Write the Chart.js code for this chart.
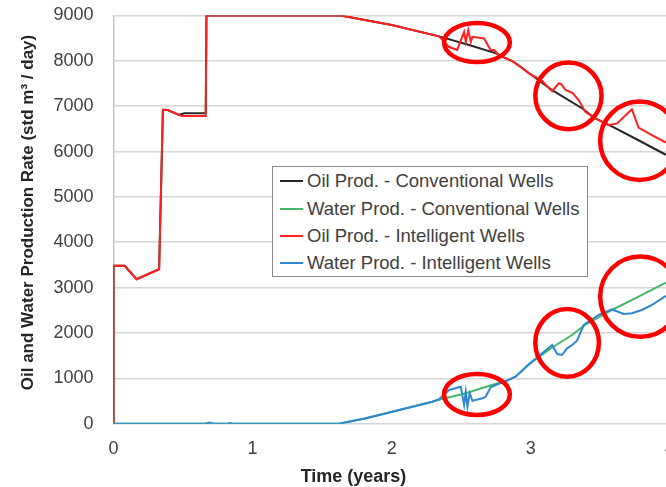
<!DOCTYPE html>
<html>
<head>
<meta charset="utf-8">
<script src="https://cdn.jsdelivr.net/npm/chart.js@4.4.1/dist/chart.umd.min.js"></script>
<style>
  html, body { margin: 0; padding: 0; overflow: hidden; background: #ffffff; }
  #wrap { position: relative; width: 690px; height: 487px; }
  #legend {
    position: absolute; left: 272px; top: 166px; width: 316px; height: 111px;
    border: 1.5px solid #8a8a8a; background: #ffffff; box-sizing: border-box;
    font-family: "Liberation Sans", Arial, sans-serif; font-size: 18.5px; color: #404040;
  }
  #legend .row { position: absolute; left: 0; height: 22px; display: flex; align-items: center; white-space: nowrap; }
  #legend .swatch { width: 23px; height: 2px; margin-left: 7px; margin-right: 4px; }
</style>
</head>
<body>
<div id="wrap">
  <canvas id="chart" width="690" height="487"></canvas>
  <div id="legend"></div>
</div>
<script>
// Time axis in years, rates in std m3/day
const oilConvT    = [0, 0, 0.08, 0.166, 0.328, 0.355, 0.39, 0.47, 0.51, 0.663, 0.668, 1.63, 1.70, 2.00, 2.34, 2.55, 2.75, 2.81, 2.87, 2.93, 2.99, 3.15, 3.37, 3.46, 3.61, 3.77, 3.97];
const oilConvRate = [0, 3480, 3480, 3185, 3405, 6920, 6915, 6810, 6845, 6845, 9000, 9000, 8960, 8790, 8540, 8355, 8165, 8070, 7990, 7860, 7720, 7360, 6950, 6735, 6510, 6255, 5930];

const waterConvT    = [0, 1.62, 1.815, 2.054, 2.292, 2.34, 2.532, 2.72, 2.82, 2.89, 2.99, 3.153, 3.296, 3.38, 3.583, 3.774, 3.97];
const waterConvRate = [0, 0, 119, 302, 485, 530, 670, 853, 940, 1036, 1320, 1680, 1955, 2160, 2507, 2800, 3110];

const oilIntT    = [0, 0, 0.08, 0.166, 0.328, 0.355, 0.39, 0.49, 0.663, 0.668, 1.63, 1.70, 2.00, 2.34, 2.41, 2.47, 2.52, 2.532, 2.55, 2.568, 2.58, 2.663, 2.711, 2.735, 2.77, 2.81, 2.87, 2.93, 2.99, 3.08, 3.153, 3.20, 3.217, 3.249, 3.30, 3.344, 3.39, 3.46, 3.56, 3.62, 3.726, 3.774, 3.87, 3.97];
const oilIntRate = [0, 3480, 3480, 3185, 3405, 6920, 6915, 6785, 6785, 9000, 9000, 8960, 8790, 8540, 8310, 8240, 8640, 8420, 8680, 8420, 8530, 8495, 8240, 8240, 8128, 8070, 7990, 7860, 7720, 7560, 7330, 7505, 7490, 7357, 7290, 7136, 6880, 6735, 6580, 6620, 6930, 6530, 6365, 6200];

const waterIntT    = [0, 0.66, 0.69, 0.72, 0.82, 0.84, 0.86, 1.62, 1.815, 2.054, 2.292, 2.34, 2.412, 2.496, 2.52, 2.532, 2.544, 2.56, 2.58, 2.651, 2.675, 2.711, 2.747, 2.771, 2.82, 2.89, 2.99, 3.153, 3.189, 3.224, 3.26, 3.296, 3.332, 3.38, 3.487, 3.583, 3.595, 3.667, 3.726, 3.798, 3.87, 3.97];
const waterIntRate = [0, 0, 25, 0, 0, 15, 0, 0, 119, 302, 485, 538, 743, 816, 412, 705, 375, 670, 507, 560, 595, 802, 853, 880, 940, 1036, 1320, 1735, 1537, 1515, 1662, 1735, 1830, 2176, 2397, 2522, 2507, 2418, 2434, 2507, 2617, 2820];

const seriesNames = [
  'Oil Prod. - Conventional Wells',
  'Water Prod. - Conventional Wells',
  'Oil Prod. - Intelligent Wells',
  'Water Prod. - Intelligent Wells'
];

// Highlighted regions: [t from, t to, rate low, rate high]
const highlightRegions = [
  [2.376, 2.849, 7974, 8834],
  [3.032, 3.508, 6493, 7963],
  [3.498, 4.065, 5373, 7103],
  [2.376, 2.849, 192, 1095],
  [3.032, 3.489, 1036, 2529],
  [3.498, 4.075, 1916, 3686]
];

const xTicks = [0, 1, 2, 3, 4];
const yTicks = [0, 1000, 2000, 3000, 4000, 5000, 6000, 7000, 8000, 9000];

const zip = (ts, vs) => ts.map((t, i) => ({ x: t, y: vs[i] }));
const FONT = '"Liberation Sans", Arial, sans-serif';

const lineStyle = (color, order) => ({
  borderColor: color, backgroundColor: color, borderWidth: 2,
  pointRadius: 0, tension: 0, fill: false, order: order
});

// Red ellipses around the intelligent-well deviations
const highlightPlugin = {
  id: 'highlights',
  afterDatasetsDraw(chart) {
    const { ctx, scales: { x, y } } = chart;
    ctx.save();
    ctx.strokeStyle = '#ff0000';
    ctx.lineWidth = 4.5;
    highlightRegions.forEach(([t0, t1, v0, v1]) => {
      const px0 = x.getPixelForValue(t0), px1 = x.getPixelForValue(t1);
      const py0 = y.getPixelForValue(v1), py1 = y.getPixelForValue(v0);
      ctx.beginPath();
      ctx.ellipse((px0 + px1) / 2, (py0 + py1) / 2, (px1 - px0) / 2, (py1 - py0) / 2, 0, 0, Math.PI * 2);
      ctx.stroke();
    });
    ctx.restore();
  }
};

// Axis titles
const axisTitlePlugin = {
  id: 'axisTitles',
  afterDraw(chart) {
    const { ctx, chartArea } = chart;
    ctx.save();
    ctx.fillStyle = '#262626';
    ctx.textAlign = 'center';
    ctx.textBaseline = 'middle';
    ctx.font = 'bold 18px ' + FONT;
    ctx.fillText('Time (years)', chartArea.left + 240, 477);
    ctx.translate(28, 212.5);
    ctx.rotate(-Math.PI / 2);
    ctx.font = 'bold 17px ' + FONT;
    ctx.fillText('Oil and Water Production Rate (std m\u00B3 / day)', 0, 0);
    ctx.restore();
  }
};

const colors = ['#262626', '#45b865', '#ff2020', '#2f86d2'];

const chart = new Chart(document.getElementById('chart'), {
  type: 'line',
  data: {
    datasets: [
      Object.assign({ label: seriesNames[0], data: zip(oilConvT, oilConvRate) }, lineStyle(colors[0], 4)),
      Object.assign({ label: seriesNames[1], data: zip(waterConvT, waterConvRate) }, lineStyle(colors[1], 3)),
      Object.assign({ label: seriesNames[2], data: zip(oilIntT, oilIntRate) }, lineStyle(colors[2], 2)),
      Object.assign({ label: seriesNames[3], data: zip(waterIntT, waterIntRate) }, lineStyle(colors[3], 1))
    ]
  },
  options: {
    responsive: false,
    animation: false,
    layout: { padding: { top: 15.5, right: 18.5, bottom: 0, left: 0 } },
    plugins: { legend: { display: false }, tooltip: { enabled: false } },
    scales: {
      x: {
        type: 'linear', min: 0, max: 4,
        afterBuildTicks: s => { s.ticks = xTicks.map(v => ({ value: v })); },
        afterFit: s => { s.height = 63.3; s.paddingTop = 0; s.paddingBottom = 0; },
        grid: { display: false, drawTicks: false },
        border: { display: false },
        ticks: { padding: 15, color: '#404040', font: { family: FONT, size: 18 }, callback: v => String(v) }
      },
      y: {
        min: 0, max: 9000,
        afterBuildTicks: s => { s.ticks = yTicks.map(v => ({ value: v })); },
        afterFit: s => { s.width = 113.5; s.paddingTop = 0; s.paddingBottom = 0; },
        grid: { color: '#d6d6d6', lineWidth: 1.6, drawTicks: false },
        border: { display: true, color: '#c4c4c4', width: 1.5 },
        ticks: { padding: 20, color: '#404040', font: { family: FONT, size: 18 }, callback: v => String(v) }
      }
    }
  },
  plugins: [highlightPlugin, axisTitlePlugin]
});

// Legend box built from the chart's datasets
const legendEl = document.getElementById('legend');
chart.data.datasets.forEach((ds, i) => {
  const row = document.createElement('div');
  row.className = 'row';
  row.style.top = (3.3 + i * 27.3) + 'px';
  const sw = document.createElement('span');
  sw.className = 'swatch';
  sw.style.background = ds.borderColor;
  const tx = document.createElement('span');
  tx.textContent = ds.label;
  row.appendChild(sw);
  row.appendChild(tx);
  legendEl.appendChild(row);
});
</script>
</body>
</html>
